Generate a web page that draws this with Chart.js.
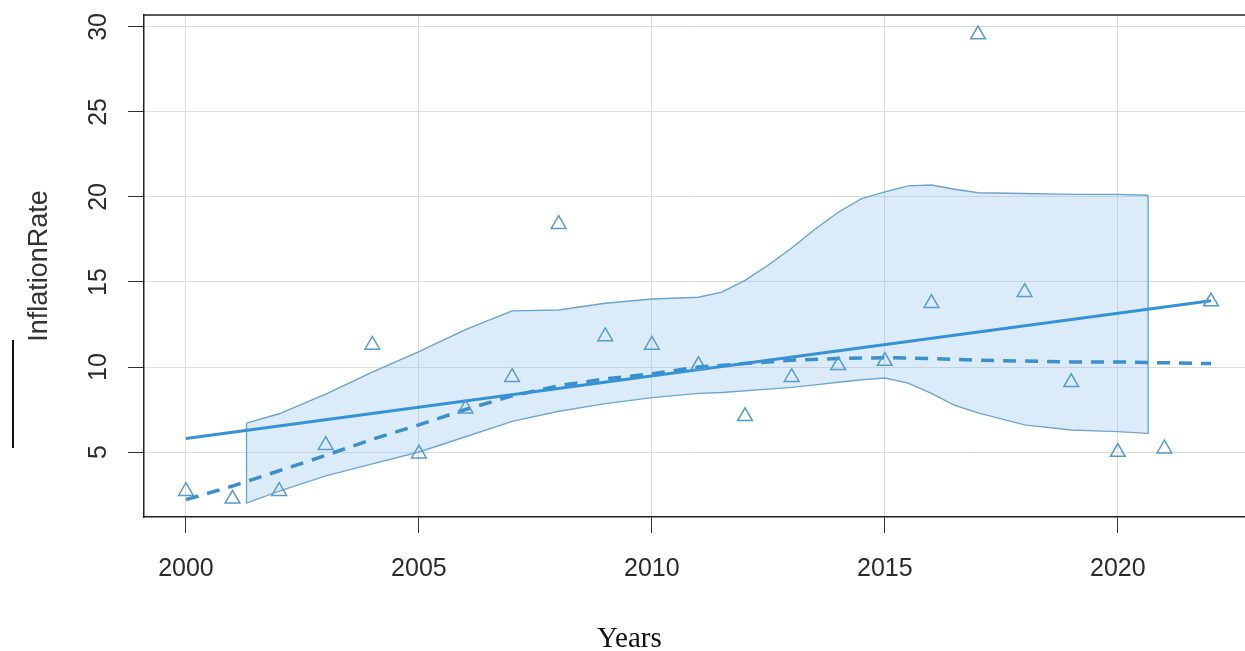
<!DOCTYPE html>
<html>
<head>
<meta charset="utf-8">
<title>InflationRate vs Years</title>
<script src="https://cdn.jsdelivr.net/npm/chart.js@4.4.1/dist/chart.umd.min.js"></script>
<style>
    html, body { margin: 0; padding: 0; background: #fff; }
    #wrap { position: relative; width: 1245px; height: 651px; overflow: hidden; }
    /* a little wider than the window so the plot box runs off the right edge */
    #holder { position: absolute; left: 0; top: 0; width: 1255px; height: 651px; }
    #xtitle { position: absolute; left: 597px; top: 623px; font-family: "Liberation Serif", "Times New Roman", serif; font-size: 29px; line-height: 29px; color: #111; white-space: nowrap; }
    #mark { position: absolute; left: 12px; top: 340px; width: 2px; height: 108px; background: #111; }
</style>
</head>
<body>
<div id="wrap">
    <div id="holder"><canvas id="chart"></canvas></div>
    <div id="mark"></div>
    <div id="xtitle">Years</div>
</div>
<script>
// Inflation rate by year: observed points, linear fit, smoother and its band

const years = [2000, 2001, 2002, 2003, 2004, 2005, 2006, 2007, 2008, 2009, 2010, 2011,
               2012, 2013, 2014, 2015, 2016, 2017, 2018, 2019, 2020, 2021, 2022];
const inflationRate = [2.7, 2.25, 2.7, 5.4, 11.3, 4.9, 7.55, 9.4, 18.4, 11.8, 11.3, 10.1,
                       7.1, 9.4, 10.1, 10.35, 13.75, 29.55, 14.4, 9.1, 5.0, 5.2, 13.85];

// straight trend line (read at both ends)
const fitYears = [2000, 2022];
const fitValues = [5.8, 13.9];

// dashed smoother
const smoothYears = years;
const smoothValues = [2.2, 3.0, 3.9, 4.8, 5.75, 6.6, 7.5, 8.3, 8.9, 9.3, 9.6, 10.0,
                      10.2, 10.4, 10.5, 10.55, 10.5, 10.4, 10.35, 10.3, 10.3, 10.25, 10.2];

// shaded band around the smoother
const bandYears = [2001.3, 2002, 2003, 2004, 2005, 2006, 2007, 2008, 2009, 2010, 2011, 2011.5,
                   2012, 2012.5, 2013, 2013.5, 2014, 2014.5, 2015, 2015.5, 2016, 2016.5, 2017,
                   2018, 2019, 2020, 2020.65];
const bandUpper = [6.7, 7.25, 8.4, 9.7, 10.9, 12.2, 13.3, 13.35, 13.75, 14.0, 14.1, 14.4,
                   15.1, 16.0, 17.0, 18.1, 19.1, 19.9, 20.3, 20.65, 20.7, 20.45, 20.25,
                   20.2, 20.15, 20.15, 20.1];
const bandLower = [2.0, 2.7, 3.6, 4.3, 5.0, 5.9, 6.8, 7.4, 7.85, 8.2, 8.45, 8.5,
                   8.6, 8.7, 8.8, 8.95, 9.1, 9.25, 9.35, 9.05, 8.45, 7.75, 7.3,
                   6.6, 6.3, 6.2, 6.1];

const xTicks = [2000, 2005, 2010, 2015, 2020];
const yTicks = [5, 10, 15, 20, 25, 30];

const blue = '#3592d6';
const tickFont = { family: '"Liberation Sans", Arial, sans-serif', size: 25 };

function pairs(xs, ys) {
    return xs.map((x, i) => ({ x: x, y: ys[i] }));
}

// lower edge also carries the two vertical sides of the band
const lowerWithEdges = [{ x: bandYears[0], y: bandUpper[0] }]
    .concat(pairs(bandYears, bandLower))
    .concat([{ x: bandYears[bandYears.length - 1], y: bandUpper[bandUpper.length - 1] }]);

// top frame line of the plot box
const frameTop = {
    id: 'frameTop',
    afterDraw(chart) {
        const a = chart.chartArea;
        const c = chart.ctx;
        c.save();
        c.strokeStyle = '#222';
        c.lineWidth = 1.5;
        c.beginPath();
        c.moveTo(a.left, a.top);
        c.lineTo(a.right, a.top);
        c.stroke();
        c.restore();
    }
};

new Chart(document.getElementById('chart'), {
    type: 'line',
    data: {
        datasets: [
            {
                type: 'scatter',
                label: 'InflationRate',
                data: pairs(years, inflationRate),
                showLine: false,
                pointStyle: 'triangle',
                pointRadius: 8.5,
                pointBorderWidth: 1.5,
                pointBorderColor: '#559bd0',
                pointBackgroundColor: 'rgba(0,0,0,0)'
            },
            {
                label: 'Linear',
                data: pairs(fitYears, fitValues),
                borderColor: blue,
                borderWidth: 3,
                pointRadius: 0,
                fill: false
            },
            {
                label: 'Smooth',
                data: pairs(smoothYears, smoothValues),
                borderColor: '#3a8fcc',
                borderWidth: 3.5,
                borderDash: [13, 9],
                pointRadius: 0,
                fill: false
            },
            {
                label: 'Upper',
                data: pairs(bandYears, bandUpper),
                borderColor: '#6aa3cf',
                borderWidth: 1.4,
                backgroundColor: 'rgba(135,190,235,0.3)',
                pointRadius: 0,
                tension: 0,
                fill: '+1'
            },
            {
                label: 'Lower',
                data: lowerWithEdges,
                borderColor: '#6aa3cf',
                borderWidth: 1.4,
                pointRadius: 0,
                tension: 0,
                fill: false
            }
        ]
    },
    options: {
        responsive: true,
        maintainAspectRatio: false,
        animation: false,
        devicePixelRatio: 1,
        layout: { padding: { top: 15, left: 0, right: 0, bottom: 0 } },
        plugins: {
            legend: { display: false },
            tooltip: { enabled: false }
        },
        scales: {
            x: {
                type: 'linear',
                min: 1999.1,
                max: 2022.73,
                afterBuildTicks: s => { s.ticks = xTicks.map(v => ({ value: v })); },
                afterFit: s => { s.height = 134; s.paddingLeft = 0; s.paddingRight = 0; },
                grid: { color: '#dcdcdc', lineWidth: 1, tickColor: '#333', tickLength: 16 },
                border: { display: true, color: '#222', width: 1.5 },
                ticks: { padding: 21, color: '#2b2b2b', font: tickFont, maxRotation: 0, callback: v => String(v) }
            },
            y: {
                type: 'linear',
                min: 1.18,
                max: 30.7,
                afterBuildTicks: s => { s.ticks = yTicks.map(v => ({ value: v })); },
                afterFit: s => { s.width = 144; s.paddingTop = 0; s.paddingBottom = 0; },
                grid: { color: '#dcdcdc', lineWidth: 1, tickColor: '#333', tickLength: 16 },
                border: { display: true, color: '#222', width: 1.5 },
                ticks: { padding: 15, color: '#2b2b2b', font: tickFont, minRotation: 90, maxRotation: 90, crossAlign: 'center', callback: v => String(v) },
                title: {
                    display: true,
                    text: 'InflationRate',
                    color: '#333',
                    font: { family: '"Liberation Sans", Arial, sans-serif', size: 27, lineHeight: 1 },
                    padding: { top: 26, bottom: 0 }
                }
            }
        }
    },
    plugins: [frameTop]
});
</script>
</body>
</html>
